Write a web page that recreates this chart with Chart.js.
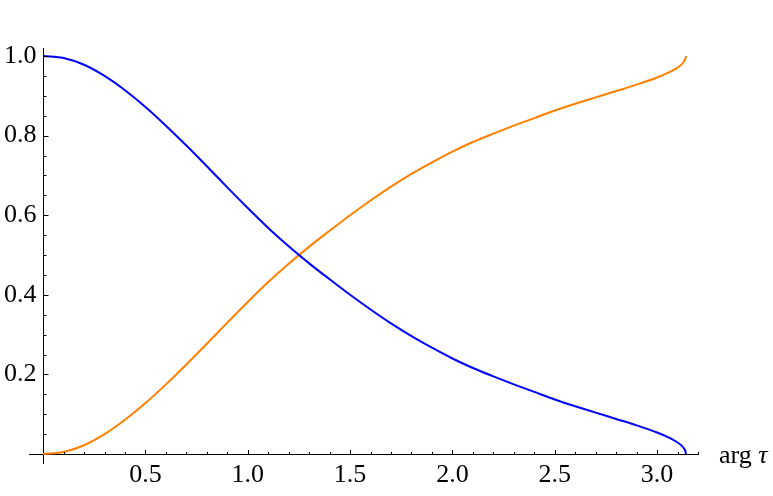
<!DOCTYPE html>
<html>
<head>
<meta charset="utf-8">
<script src="https://cdn.jsdelivr.net/npm/chart.js@4.4.0/dist/chart.umd.min.js"></script>
<style>
  body { margin: 0; background: #fff; }
  #wrap { width: 773px; height: 496px; }
</style>
</head>
<body>
<div id="wrap"><canvas id="argChart"></canvas></div>
<script>
// values
const argTau = [0, 0.1, 0.2, 0.3, 0.4, 0.5, 0.6, 0.7, 0.8, 0.9, 1.0, 1.1, 1.2, 1.3, 1.4, 1.5,
  1.6, 1.7, 1.8, 1.9, 2.0, 2.1, 2.2, 2.3, 2.4, 2.5, 2.6, 2.7, 2.8, 2.9, 3.0, 3.05, 3.1,
  3.12, 3.13, 3.138, 3.1416];
const blueValues = [1.000, 0.995, 0.978, 0.950, 0.914, 0.872, 0.825, 0.775, 0.723, 0.670,
  0.618, 0.568, 0.522, 0.479, 0.439, 0.400, 0.363, 0.328, 0.296, 0.267, 0.240, 0.216,
  0.195, 0.175, 0.156, 0.137, 0.120, 0.104, 0.088, 0.072, 0.054, 0.043, 0.029, 0.021,
  0.015, 0.008, 0.000];
const orangeValues = [0.000, 0.005, 0.022, 0.050, 0.086, 0.128, 0.175, 0.225, 0.277, 0.330,
  0.382, 0.432, 0.478, 0.521, 0.561, 0.600, 0.637, 0.672, 0.704, 0.733, 0.760, 0.784,
  0.805, 0.825, 0.844, 0.863, 0.880, 0.896, 0.912, 0.928, 0.946, 0.957, 0.971, 0.979,
  0.985, 0.992, 1.000];

const xTickLabels = [0.5, 1.0, 1.5, 2.0, 2.5, 3.0];
const yTickLabels = [0.2, 0.4, 0.6, 0.8, 1.0];

const serif = '"Liberation Serif", "Times New Roman", serif';

// minor + major tick marks pointing inwards, Mathematica style
const tickMarks = {
  id: 'tickMarks',
  afterDraw(chart) {
    const ctx = chart.ctx;
    const xs = chart.scales.x, ys = chart.scales.y;
    const x0 = Math.round(xs.getPixelForValue(0)) + 0.5;
    const y0 = Math.round(ys.getPixelForValue(0)) + 0.5;
    ctx.save();
    ctx.strokeStyle = '#000';
    ctx.lineWidth = 1;
    ctx.beginPath();
    for (let i = 1; i <= 32; i++) {
      const px = Math.round(xs.getPixelForValue(i / 10)) + 0.5;
      const len = i % 5 === 0 ? 4.5 : 2.5;
      ctx.moveTo(px, y0);
      ctx.lineTo(px, y0 - len);
    }
    for (let j = 1; j <= 20; j++) {
      const py = Math.round(ys.getPixelForValue(j / 20)) + 0.5;
      const len = j % 4 === 0 ? 5 : 3;
      ctx.moveTo(x0, py);
      ctx.lineTo(x0 + len, py);
    }
    ctx.stroke();

    // axis label
    ctx.fillStyle = '#000';
    ctx.textBaseline = 'alphabetic';
    ctx.textAlign = 'left';
    ctx.font = '26px ' + serif;
    const lx = 719, ly = 463;
    ctx.fillText('arg', lx, ly);
    const w = ctx.measureText('arg ').width;
    ctx.font = 'italic 26px ' + serif;
    ctx.fillText('τ', lx + w, ly);
    ctx.restore();
  }
};

document.addEventListener('DOMContentLoaded', function() {
  const ctx = document.getElementById('argChart').getContext('2d');
  new Chart(ctx, {
    type: 'line',
    data: {
      datasets: [{
        data: argTau.map((x, i) => ({ x: x, y: blueValues[i] })),
        borderColor: 'rgb(0, 0, 255)',
        borderWidth: 2,
        pointRadius: 0,
        cubicInterpolationMode: 'monotone'
      }, {
        data: argTau.map((x, i) => ({ x: x, y: orangeValues[i] })),
        borderColor: 'rgb(255, 128, 0)',
        borderWidth: 2,
        pointRadius: 0,
        cubicInterpolationMode: 'monotone'
      }]
    },
    options: {
      responsive: true,
      maintainAspectRatio: false,
      animation: false,
      layout: { padding: { left: 29, right: 75, top: 48, bottom: 33 } },
      plugins: { legend: { display: false }, tooltip: { enabled: false } },
      scales: {
        x: {
          type: 'linear',
          position: { y: 0 },
          min: -0.069,
          max: 3.2,
          afterFit: s => { s.height = 0; },
          afterBuildTicks: s => { s.ticks = xTickLabels.map(v => ({ value: v })); },
          grid: { display: false, drawTicks: false },
          border: { display: true, color: '#000', width: 1 },
          ticks: {
            autoSkip: false,
            maxRotation: 0,
            padding: 6,
            color: '#000',
            font: { family: serif, size: 26 },
            callback: v => v.toFixed(1)
          }
        },
        y: {
          type: 'linear',
          position: { x: 0 },
          min: -0.0226,
          max: 1.0201,
          afterFit: s => { s.width = 0; },
          afterBuildTicks: s => { s.ticks = yTickLabels.map(v => ({ value: v })); },
          grid: { display: false, drawTicks: false },
          border: { display: true, color: '#000', width: 1 },
          ticks: {
            autoSkip: false,
            padding: 0,
            color: '#000',
            font: { family: serif, size: 26 },
            callback: v => v.toFixed(1) + ' '
          }
        }
      }
    },
    plugins: [tickMarks]
  });
});
</script>
</body>
</html>
